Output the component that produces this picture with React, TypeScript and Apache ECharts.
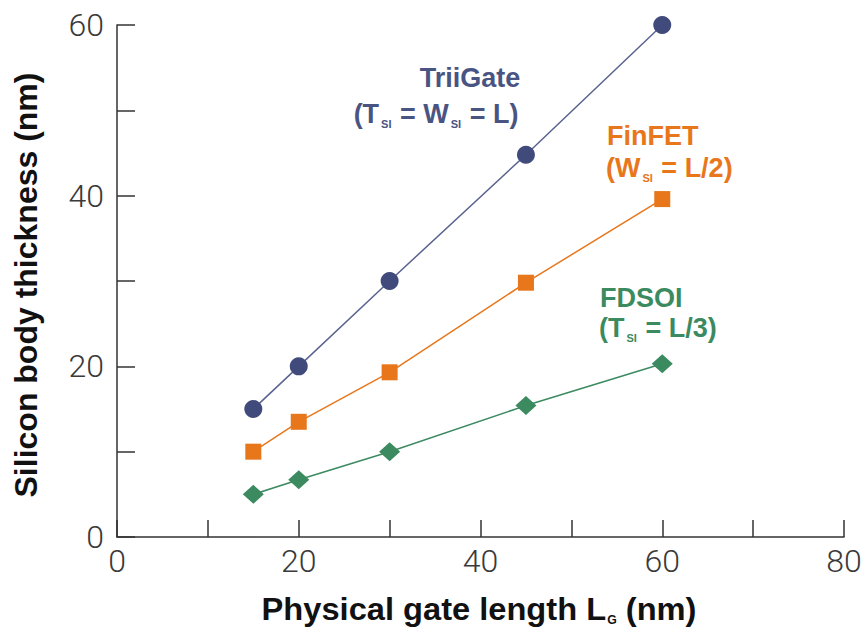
import React, { useEffect, useRef } from "react";
import * as echarts from "echarts";

const gateLengths = [15, 20, 30, 45, 60];
const triGate = [15, 20, 30, 44.8, 60];
const finFET = [10, 13.5, 19.3, 29.8, 39.6];
const fdsoi = [5, 6.7, 10, 15.4, 20.3];

const xTicks = { min: 0, max: 80, interval: 10 };
const yTicks = { min: 0, max: 60, interval: 10 };
const labelStep = 20;

const C_TRI = "#414b7b";
const C_FIN = "#e8761b";
const C_FD = "#3b8a60";
const FONT = "Liberation Sans, Arial, sans-serif";

const pair = (xs: number[], ys: number[]) => xs.map((x, i) => [x, ys[i]]);

function richStyle(color: string, size: number) {
  return {
    n: { fontSize: size, fontWeight: "bold", fontFamily: FONT, fill: color, lineHeight: size + 4 },
    s: {
      fontSize: Math.round(size * 0.4),
      fontWeight: "bold",
      fontFamily: FONT,
      fill: color,
      verticalAlign: "bottom",
      lineHeight: size + 4,
      padding: [0, 1, 0, 2],
    },
  };
}

export default function App() {
  const ref = useRef<HTMLDivElement>(null);
  useEffect(() => {
    if (!ref.current) return;
    const chart = echarts.init(ref.current, null, { renderer: "svg" });
    const axisLabelStyle = { color: "#3a3a3a", fontSize: 32, fontFamily: "Roboto, Liberation Sans, sans-serif", fontWeight: 300 };
    chart.setOption({
      animation: false,
      backgroundColor: "#ffffff",
      grid: { left: 117, right: 23, top: 25, bottom: 91 },
      xAxis: {
        type: "value",
        ...xTicks,
        axisLine: { show: true, lineStyle: { color: "#333", width: 1.5 } },
        axisTick: { show: true, inside: true, length: 17, lineStyle: { color: "#333", width: 1.5 } },
        splitLine: { show: false },
        axisLabel: {
          ...axisLabelStyle,
          margin: 8,
          formatter: (v: number) => (v % labelStep === 0 ? String(v) : ""),
        },
      },
      yAxis: {
        type: "value",
        ...yTicks,
        axisLine: { show: true, lineStyle: { color: "#333", width: 1.5 } },
        axisTick: { show: true, inside: true, length: 18, lineStyle: { color: "#333", width: 1.5 } },
        splitLine: { show: false },
        axisLabel: {
          ...axisLabelStyle,
          margin: 13,
          formatter: (v: number) => (v % labelStep === 0 ? String(v) : ""),
        },
      },
      series: [
        {
          name: "TriGate",
          type: "line",
          data: pair(gateLengths, triGate),
          symbol: "circle",
          symbolSize: 18,
          itemStyle: { color: C_TRI },
          lineStyle: { color: "#5a6390", width: 1.5 },
        },
        {
          name: "FinFET",
          type: "line",
          data: pair(gateLengths, finFET),
          symbol: "rect",
          symbolSize: 16,
          itemStyle: { color: C_FIN },
          lineStyle: { color: C_FIN, width: 1.5 },
        },
        {
          name: "FDSOI",
          type: "line",
          data: pair(gateLengths, fdsoi),
          symbol: "diamond",
          symbolSize: [21, 19],
          itemStyle: { color: C_FD },
          lineStyle: { color: C_FD, width: 1.5 },
        },
      ],
      graphic: [
        {
          type: "text",
          x: 26,
          y: 285,
          rotation: Math.PI / 2,
          style: {
            text: "Silicon body thickness (nm)",
            fill: "#111",
            font: `bold 32px ${FONT}`,
            align: "center",
            verticalAlign: "middle",
          },
        },
        {
          type: "text",
          x: 479,
          y: 609,
          scaleX: 1.02,
          style: {
            text: "{n|Physical gate length L}{s|G}{n| (nm)}",
            rich: {
              n: { fontSize: 32, fontWeight: "bold", fontFamily: FONT, fill: "#111", lineHeight: 34 },
              s: { fontSize: 12, fontWeight: "bold", fontFamily: FONT, fill: "#111", verticalAlign: "bottom", lineHeight: 34, padding: [0, 0, 0, 1] },
            },
            align: "center",
            verticalAlign: "middle",
          },
        },
        {
          type: "text",
          x: 470,
          y: 78,
          style: {
            text: "{n|TriiGate}",
            rich: richStyle("#4a5482", 27),
            align: "center",
            verticalAlign: "middle",
          },
        },
        {
          type: "text",
          x: 436,
          y: 114,
          style: {
            text: "{n|(T}{s|SI}{n| = W}{s|SI}{n| = L)}",
            rich: richStyle("#4a5482", 27),
            align: "center",
            verticalAlign: "middle",
          },
        },
        {
          type: "text",
          x: 607,
          y: 136,
          style: {
            text: "{n|FinFET}",
            rich: richStyle(C_FIN, 27),
            align: "left",
            verticalAlign: "middle",
          },
        },
        {
          type: "text",
          x: 606,
          y: 168,
          style: {
            text: "{n|(W}{s|SI}{n| = L/2)}",
            rich: richStyle(C_FIN, 27),
            align: "left",
            verticalAlign: "middle",
          },
        },
        {
          type: "text",
          x: 600,
          y: 298,
          style: {
            text: "{n|FDSOI}",
            rich: richStyle(C_FD, 27),
            align: "left",
            verticalAlign: "middle",
          },
        },
        {
          type: "text",
          x: 599,
          y: 328,
          style: {
            text: "{n|(T}{s|SI}{n| = L/3)}",
            rich: richStyle(C_FD, 27),
            align: "left",
            verticalAlign: "middle",
          },
        },
      ],
    });
    return () => chart.dispose();
  }, []);
  return <div ref={ref} style={{ width: 867, height: 628, position: "absolute", left: 0, top: 0 }} />;
}
